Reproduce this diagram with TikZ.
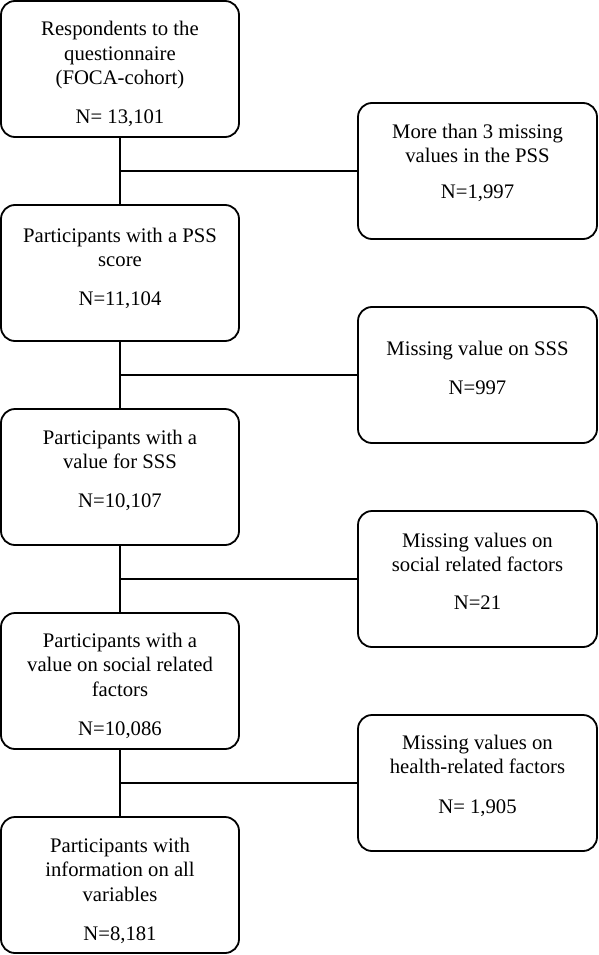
\documentclass[tikz,border=0pt]{standalone}
\usepackage{fontspec}
\setmainfont{Liberation Serif}
\usetikzlibrary{positioning,calc}
% text block of a box, first baseline set by the strut
\newcommand{\flowtext}[2][27pt]{\parbox[c][120pt][t]{232pt}{\centering\fontsize{20.7}{24.5}\selectfont\rule{0pt}{#1}#2}}

\begin{document}
\begin{tikzpicture}[
  x=1pt, y=-1pt,
  stage/.style={draw, rounded corners=14pt, minimum width=238pt, minimum height=136pt, inner sep=0pt, line width=1.8pt},
  excl/.style={stage, minimum width=239pt},
  link/.style={line width=1.8pt}
]
\useasboundingbox (0,0) rectangle (598,955);
% main flow
\node[stage] (resp) at (120,69) {\flowtext{Respondents to the\\questionnaire\\(FOCA-cohort)\\[14.5pt]N= 13,101}};
\node[stage] (pss) at (120,273) {\flowtext[29pt]{Participants with a PSS\\score\\[14.5pt]N=11,104}};
\node[stage] (sss) at (120,477) {\flowtext[27pt]{Participants with a\\value for SSS\\[14.5pt]N=10,107}};
\node[stage] (soc) at (120,681) {\flowtext[26pt]{Participants with a\\value on social related\\factors\\[14.5pt]N=10,086}};
\node[stage] (all) at (120,885) {\flowtext{Participants with\\information on all\\variables\\[14.5pt]N=8,181}};
% exclusions
\node[excl] (xpss) at (477.5,171) {\flowtext{More than 3 missing\\values in the PSS\\[11pt]N=1,997}};
\node[excl] (xsss) at (477.5,375) {\flowtext[40pt]{Missing value on SSS\\[15pt]N=997}};
\node[excl] (xsoc) at (477.5,579) {\flowtext[28pt]{Missing values on\\social related factors\\[13.5pt]N=21}};
\node[excl] (xhea) at (477.5,783) {\flowtext[26pt]{Missing values on\\health-related factors\\[15pt]N= 1,905}};
% connectors
\foreach \a/\b/\x in {resp/pss/xpss, pss/sss/xsss, sss/soc/xsoc, soc/all/xhea} {
  \draw[link] (\a.south) -- (\b.north);
  \coordinate (m\x) at ($(\a.south)!0.5!(\b.north)$);
  \draw[link] (m\x) -- (m\x -| \x.west);
}
\end{tikzpicture}
\end{document}
